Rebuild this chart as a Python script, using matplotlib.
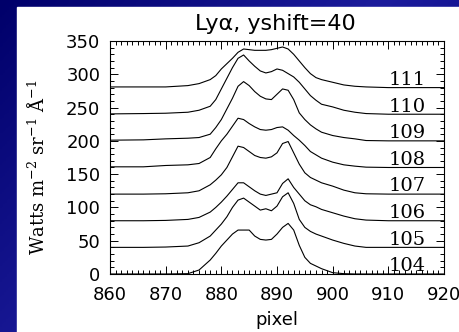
import matplotlib
matplotlib.use('Agg')
import matplotlib.pyplot as plt
import numpy as np
from matplotlib.patches import Rectangle
from matplotlib.colors import LinearSegmentedColormap
from matplotlib.ticker import MultipleLocator

plt.rcParams['mathtext.fontset'] = 'dejavuserif'

# pixel positions where the spectra were read
pix = [860, 866, 870, 874, 876, 878, 879, 880, 881, 882, 883, 884, 885, 886, 887, 888,
       889, 890, 891, 892, 893, 894, 895, 896, 897, 898, 900, 902, 904, 906, 910, 920]

rows = ['104', '105', '106', '107', '108', '109', '110', '111']
yshift = 40

s104 = [0, 0, 0, 0.5, 6, 21, 31, 42, 51, 60, 66, 66, 66, 57, 52, 51,
        52, 60, 70, 76, 66, 43, 25, 16, 12, 8, 2, 0.5, 0, 0, 0, 0]
s105 = [0, 0, 0.5, 2, 7, 17, 26, 35, 46, 60, 71, 74, 68, 62, 56, 58,
        55, 62, 76, 82, 66, 42, 30, 24, 20, 17, 11, 6, 2, 0, 0, 0]
s106 = [0, 0, 0.5, 2, 5, 13, 20, 28, 37, 47, 57, 57, 51, 45, 40, 38,
        40, 42, 56, 63, 50, 40, 30, 24, 21, 17, 12, 7, 3, 1, 0, 0]
s107 = [0, 0, 0.5, 2, 5, 14, 21, 29, 40, 56, 72, 70, 64, 58, 55, 54,
        56, 62, 76, 79, 62, 45, 32, 25, 21, 17, 12, 6, 2, 0.5, 0, 0]
s108 = [1, 1, 3, 4, 6, 15, 28, 40, 50, 62, 74, 72, 66, 61, 57, 56,
        57, 60, 61, 56, 48, 41, 33, 24, 19, 14, 8, 4, 2, 0.5, 0, 0]
s109 = [1, 1.5, 3, 4, 5, 10, 20, 32, 48, 64, 82, 89, 83, 74, 67, 63,
        62, 70, 78, 76, 62, 42, 32, 24, 18, 13, 8, 5, 3, 0.5, 0, 0]
s110 = [0.5, 1, 1.5, 3, 6, 12, 22, 38, 54, 70, 84, 89, 80, 72, 65, 62,
        64, 68, 66, 61, 56, 48, 38, 28, 21, 15, 11, 6, 3, 1, 0, 0]
s111 = [1, 1, 1, 3, 6, 12, 18, 28, 36, 44, 53, 58, 57, 56, 56, 56,
        57, 59, 61, 58, 50, 40, 30, 21, 15, 12, 8, 4, 2, 1, 0, 0]
spectra = [s104, s105, s106, s107, s108, s109, s110, s111]

W, H = 460, 332
fig = plt.figure(figsize=(W / 100, H / 100), dpi=100)

# slide background: navy gradient with a white panel
bg = fig.add_axes([0, 0, 1, 1], zorder=-5)
bg.axis('off')
cmap = LinearSegmentedColormap.from_list('slide', ['#00006a', '#1c1c9c', '#00007a'])
gx, gy = np.meshgrid(np.linspace(0, 1, 200), np.linspace(0, 1, 200))
bg.imshow(gx * 0.6 + gy * 0.4, cmap=cmap, extent=[0, 1, 0, 1], aspect='auto',
          transform=bg.transAxes)
bg.add_patch(Rectangle((17 / W, 0), 1 - 17 / W, 1 - 7 / H, transform=bg.transAxes,
                       color='white'))
bg.set_xlim(0, 1)
bg.set_ylim(0, 1)

ax = fig.add_axes([110 / W, 58 / H, 334 / W, 233 / H])
for i, (lab, s) in enumerate(zip(rows, spectra)):
    base = i * yshift
    ax.plot(pix, np.array(s) + base, color='black', lw=0.8)
    ax.text(916.7, base + 4, lab, ha='right', va='baseline',
            family='DejaVu Serif', fontsize=14)

ax.set_xlim(860, 920)
ax.set_ylim(0, 350)
ax.xaxis.set_major_locator(MultipleLocator(10))
ax.xaxis.set_minor_locator(MultipleLocator(1))
ax.yaxis.set_major_locator(MultipleLocator(50))
ax.yaxis.set_minor_locator(MultipleLocator(10))
ax.tick_params(which='both', direction='in', top=True, right=True, width=0.7)
ax.tick_params(which='major', length=6)
ax.tick_params(which='minor', length=3)
ax.tick_params(axis='y', labelsize=13, pad=7)
ax.tick_params(axis='x', labelsize=13, pad=9)
for sp in ax.spines.values():
    sp.set_linewidth(0.8)

fig.text(275 / W, 1 - 30 / H, 'Lyα, yshift=40', ha='center', va='baseline',
         fontsize=16)
fig.text(277 / W, 1 - 320 / H, 'pixel', ha='center', va='center', fontsize=13)
fig.text(38 / W, 1 - 167 / H, r'Watts m$^{-2}$ sr$^{-1}$ $\mathrm{\AA}^{-1}$',
         rotation=90, ha='center', va='center', family='DejaVu Serif', fontsize=13)

fig.savefig('out.png', dpi=100)
